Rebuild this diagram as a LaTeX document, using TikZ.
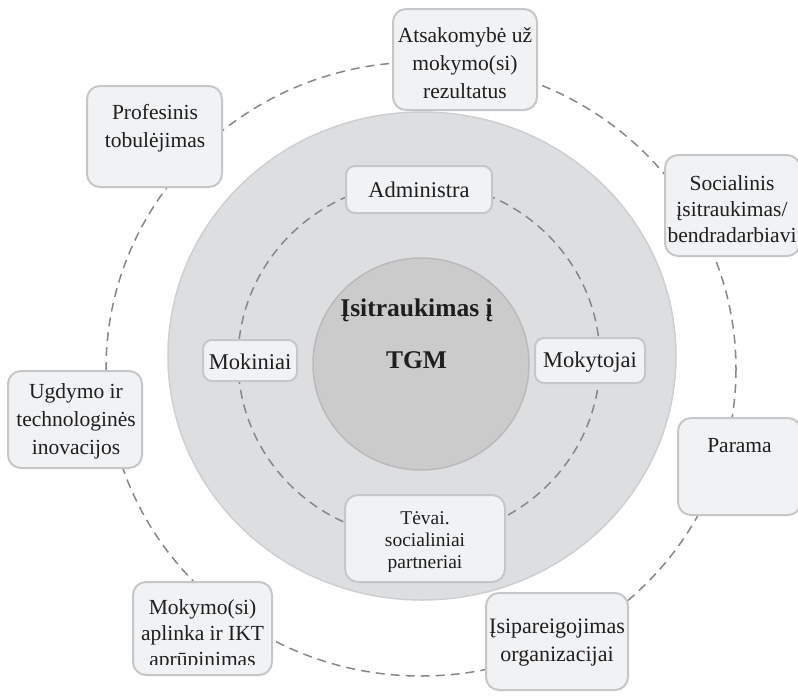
\documentclass[tikz,border=0pt]{standalone}
\usepackage{fontspec}
\setmainfont{Liberation Serif}
\definecolor{boxfill}{RGB}{241,242,244}
\definecolor{boxedge}{RGB}{198,199,201}
\definecolor{discfill}{RGB}{221,222,224}
\definecolor{discedge}{RGB}{206,207,209}
\definecolor{corefill}{RGB}{203,203,204}
\definecolor{coreedge}{RGB}{186,186,188}
\definecolor{dashgray}{RGB}{135,135,135}
\definecolor{textcol}{RGB}{30,30,30}
\begin{document}
\begin{tikzpicture}[x=1pt,y=-1pt,
  ringline/.style={draw=dashgray, line width=1.5pt, dash pattern=on 9pt off 6pt},
  outerbox/.style={draw=boxedge, fill=boxfill, line width=2pt, rounded corners=13pt, inner sep=0pt},
  innerbox/.style={draw=boxedge, fill=boxfill, line width=2pt, rounded corners=9pt, inner sep=0pt},
  boxtext/.style={align=center, text=textcol, inner sep=0pt, font=\fontsize{21.5}{26}\selectfont},
  widetext/.style={boxtext, font=\fontsize{21.5}{28}\selectfont},
  smalltext/.style={boxtext, font=\fontsize{19.5}{22}\selectfont},
  ringtext/.style={boxtext, font=\fontsize{22.5}{26}\selectfont},
  coretext/.style={align=center, text=textcol, inner sep=0pt, font=\fontsize{25.5}{52}\selectfont\bfseries},
]
\useasboundingbox (0,0) rectangle (798,696);
\fill[white] (0,0) rectangle (798,696);

% outer dashed orbit
\draw[ringline] (421,369) ellipse [x radius=315, y radius=307];

% large grey disc, inner dashed orbit, core disc
\draw[draw=discedge, fill=discfill, line width=1.5pt] (422,356) ellipse [x radius=254, y radius=244];
\draw[ringline] (419,360) ellipse [x radius=181, y radius=178];
\draw[draw=coreedge, fill=corefill, line width=1.5pt] (421,364) ellipse [x radius=108, y radius=106];
\node[coretext] (core) at (416.5,334) {Įsitraukimas į\\TGM};

% inner ring boxes
\node[innerbox, minimum width=146, minimum height=47] (adm) at (419,189.5) {};
\node[ringtext] (admT) at (419,190) {Administra};
\node[innerbox, minimum width=94, minimum height=41] (moki) at (250,360.5) {};
\node[ringtext] (mokiT) at (250,362) {Mokiniai};
\node[innerbox, minimum width=110, minimum height=45] (moky) at (590,360.5) {};
\node[ringtext] (mokyT) at (590,362) {Mokytojai};
\node[outerbox, minimum width=160, minimum height=87] (tev) at (425,538.5) {};
\begin{scope}
  \clip (345,495) rectangle (505,571);
  \node[smalltext] (tevT) at (425,542) {Tėvai.\\socialiniai\\partneriai};
\end{scope}

% outer ring boxes
\node[outerbox, minimum width=144, minimum height=101] (ats) at (465,59.5) {};
\node[widetext] (atsT) at (465,63) {Atsakomybė už\\mokymo(si)\\rezultatus};

\node[outerbox, minimum width=135, minimum height=101] (prof) at (154.5,136.5) {};
\node[widetext] (profT) at (155,128) {Profesinis\\tobulėjimas};

\node[outerbox, minimum width=135, minimum height=101] (soc) at (732.5,205.5) {};
\node[boxtext] (socT) at (732,209) {Socialinis\\įsitraukimas/\\bendradarbiavi};

\node[outerbox, minimum width=134, minimum height=97] (ugd) at (75,419.5) {};
\node[widetext] (ugdT) at (76,421) {Ugdymo ir\\technologinės\\inovacijos};

\node[outerbox, minimum width=123, minimum height=97] (par) at (739.5,466.5) {};
\node[boxtext] (parT) at (739.5,446) {Parama};

\node[outerbox, minimum width=139, minimum height=93] (mok) at (202.5,628.5) {};
\begin{scope}
  \clip (133,582) rectangle (272,664);
  \node[boxtext] (mokT) at (202.5,635) {Mokymo(si)\\aplinka ir IKT\\aprūpinimas};
\end{scope}

\node[outerbox, minimum width=142, minimum height=97] (isi) at (557,641.5) {};
\node[boxtext, font=\fontsize{22}{28}\selectfont] (isiT) at (557,643) {Įsipareigojimas\\organizacijai};
\end{tikzpicture}
\end{document}
